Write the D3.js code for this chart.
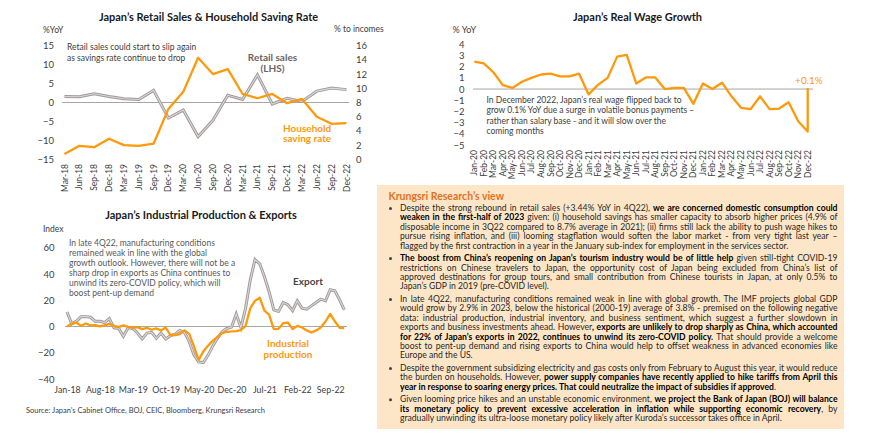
<!DOCTYPE html>
<html lang="en">
<head>
  <meta charset="UTF-8">
  <title>Japan economic outlook</title>
  <script src="https://d3js.org/d3.v7.min.js"></script>
  <style>
    body { margin: 0; padding: 0; background: #fff; font-family: Lato, sans-serif; overflow: hidden; }
    text { font-family: Lato, sans-serif; }
  </style>
</head>
<body>
  <div id="chart"></div>

  <script>
    // ---- data ----
    const quarters = ["Mar-18","Jun-18","Sep-18","Dec-18","Mar-19","Jun-19","Sep-19","Dec-19","Mar-20","Jun-20",
                      "Sep-20","Dec-20","Mar-21","Jun-21","Sep-21","Dec-21","Mar-22","Jun-22","Sep-22","Dec-22"];
    const retailSales = [1.6, 1.5, 2.3, 1.6, 1.0, 0.8, 3.2, -4.1, -2.0, -9.0, -4.7, 1.9, 0.8, 7.3, -0.4, 1.1, 0.3, 3.0, 3.8, 3.4];
    const savingRate = [0.75, 1.9, 1.7, 2.9, 2.0, 1.9, 2.2, 7.1, 9.5, 14.3, 12.0, 12.7, 9.2, 8.6, 9.2, 7.9, 8.5, 6.0, 5.0, 5.1];
    const retailTicks = [15, 10, 5, 0, -5, -10, -15];
    const savingTicks = [16, 14, 12, 10, 8, 6, 4, 2, 0];

    const fmtMonth = d3.timeFormat("%b-%y");
    const wageMonths = d3.timeMonth.range(new Date(2020, 0, 1), new Date(2023, 0, 1)).map(fmtMonth);
    // last value is the Dec-22 flash reading (+0.1%), drawn at the end of the axis
    const realWage = [2.45, 2.3, 1.5, 0.35, 0.1, 0.65, 1.0, 1.3, 1.37, 1.13, 1.13, 1.37,
                      -0.48, 0.4, 1.0, 2.9, 3.05, 0.5, 1.04, 1.04, 0.0, 0.1, 0.1, -1.32,
                      0.5, 0.0, 0.57, -0.65, -1.68, -1.8, -0.65, -1.79, -1.74, -1.18, -2.88, -3.8, 0.1];
    const wageTicks = [4, 3, 2, 1, 0, -1, -2, -3, -4, -5];

    const ipMonths = d3.timeMonth.range(new Date(2018, 0, 1), new Date(2023, 0, 1)).map(fmtMonth);
    const exportsIdx = [11, 2, 4, 7.5, 7.5, 7, 4, 4, 3, 6, -1, -1.5,
                        -7.5, -1, -1.5, -5, -9.5, -5, -4.5, -9, -5, -9.5, -7, -6,
                        -3, -4.5, -11.5, -21.5, -27, -27.5, -22, -15, -9, -4, -1.5, -0.5,
                        9.5, -0.8, 14, 35.5, 51, 47.7, 38, 26.5, 12.7, 11.4, 18.3, 16.5,
                        12, 19.5, 14, 13.2, 15.7, 18.3, 20.8, 19.5, 28, 27.2, 20.3, 12.7];
    const industrialProd = [0, 2, 3, 0.5, 2.3, 0.8, 1, 0, 0.8, 2, 0.5, -0.5,
                            0.8, -0.3, -1, -0.5, -2, -1, -2.5, -1.5, -3, -0.8, -6.5, -6.5,
                            -5.8, -3, -5.6, -15, -25.5, -19, -14.7, -11, -8, -5, -4, -3.8,
                            -3.5, -2.8, 0.5, 14, 19.5, 22, 12, 9, -2, -1.8, 2.5, 3,
                            -2, 0.5, -0.8, -3, -4.6, -3, -0.8, 3.8, 9.6, 3.8, -1, -1.3];
    const ipTickLabels = ["Jan-18","Aug-18","Mar-19","Oct-19","May-20","Dec-20","Jul-21","Feb-22","Sep-22"];
    const ipTicks = [60, 40, 20, 0, -20, -40];

    const orange = "#fd990b";
    const axisText = "#404040";

    const svg = d3.select("#chart").append("svg")
      .attr("width", 870).attr("height", 438);
    svg.append("rect").attr("width", 870).attr("height", 438).attr("fill", "#fff");

    function title(x, y, t) {
      svg.append("text").attr("x", x).attr("y", y).attr("text-anchor", "middle")
        .attr("font-size", 11).attr("font-weight", "bold").attr("fill", "#1a1a1a").text(t);
    }
    function label(x, y, t, opts = {}) {
      return svg.append("text").attr("x", x).attr("y", y)
        .attr("text-anchor", opts.anchor || "start")
        .attr("font-size", opts.size || 8.5)
        .attr("font-weight", opts.bold ? "bold" : null)
        .attr("fill", opts.fill || axisText).text(t);
    }
    function greyLine(path) {
      // double-stroke grey look
      svg.append("path").attr("d", path).attr("fill", "none").attr("stroke", "#a09999").attr("stroke-width", 3);
      svg.append("path").attr("d", path).attr("fill", "none").attr("stroke", "#dcd7d7").attr("stroke-width", 1.1);
    }
    function orangeLine(path) {
      svg.append("path").attr("d", path).attr("fill", "none").attr("stroke", orange)
        .attr("stroke-width", 2.3).attr("stroke-linejoin", "round");
    }
    function styleAxis(g) {
      g.select(".domain").remove();
      g.selectAll("line").remove();
      g.selectAll("text").attr("fill", axisText).attr("font-family", "Lato, sans-serif");
    }

    // ---- chart 1: retail sales & saving rate ----
    const x1 = d3.scalePoint().domain(quarters).range([64.5, 346.5]);
    const yL = d3.scaleLinear().domain([-15, 15]).range([159.3, 45.7]);
    const yR = d3.scaleLinear().domain([0, 16]).range([159.3, 45.7]);

    title(208.5, 21, "Japan\u2019s Retail Sales & Household Saving Rate");
    label(43, 33, "%YoY");
    label(334, 32, "% to incomes");

    svg.append("g").attr("transform", "translate(54,0)")
      .call(d3.axisLeft(yL).tickValues(retailTicks).tickSize(0).tickPadding(0))
      .call(styleAxis).selectAll("text").attr("font-size", 9.5);
    svg.append("g").attr("transform", "translate(356,0)")
      .call(d3.axisRight(yR).tickValues(savingTicks).tickSize(0).tickPadding(0))
      .call(styleAxis).selectAll("text").attr("font-size", 9.5);

    svg.append("line").attr("x1", 62).attr("x2", 349).attr("y1", yL(0)).attr("y2", yL(0))
      .attr("stroke", "#a6a6a6").attr("stroke-width", 1);

    svg.append("g").selectAll("text").data(quarters).join("text")
      .attr("transform", d => `translate(${x1(d) + 3},164) rotate(-90)`)
      .attr("text-anchor", "end").attr("font-size", 8.5).attr("fill", axisText).text(d => d);

    greyLine(d3.line().x((d, i) => x1(quarters[i])).y(d => yL(d))(retailSales));
    orangeLine(d3.line().x((d, i) => x1(quarters[i])).y(d => yR(d))(savingRate));

    label(67, 50, "Retail sales could start to slip again");
    label(67, 60.5, "as savings rate continue to drop");
    label(272.5, 61, "Retail sales", { anchor: "middle", size: 10, bold: true, fill: "#6b6363" });
    label(272.5, 71.5, "(LHS)", { anchor: "middle", size: 10, bold: true, fill: "#6b6363" });
    label(283, 131.5, "Household", { size: 10, bold: true, fill: orange });
    label(283, 142, "saving rate", { size: 10, bold: true, fill: orange });

    // ---- chart 2: real wage growth ----
    const x2 = d3.scalePoint().domain(wageMonths).range([474.3, 807.7]);
    const y2 = d3.scaleLinear().domain([-5, 4]).range([145, 44.3]);

    title(637.5, 21, "Japan\u2019s Real Wage Growth");
    label(452.5, 33, "% YoY", { size: 9 });
    svg.append("g").attr("transform", "translate(464.5,0)")
      .call(d3.axisLeft(y2).tickValues(wageTicks).tickSize(0).tickPadding(0).tickFormat(d3.format("d")))
      .call(styleAxis).selectAll("text").attr("font-size", 9.5);
    svg.append("line").attr("x1", 473).attr("x2", 813).attr("y1", y2(0)).attr("y2", y2(0))
      .attr("stroke", "#a6a6a6").attr("stroke-width", 1);
    svg.append("g").selectAll("text").data(wageMonths).join("text")
      .attr("transform", d => `translate(${x2(d) + 3},150) rotate(-90)`)
      .attr("text-anchor", "end").attr("font-size", 8.5).attr("fill", axisText).text(d => d);
    orangeLine(d3.line()
      .x((d, i) => x2(wageMonths[Math.min(i, wageMonths.length - 1)]))
      .y(d => y2(d))(realWage));

    label(809, 84, "+0.1%", { anchor: "middle", size: 10, fill: orange });
    const wageNote = ["In December 2022, Japan\u2019s real wage flipped back to",
                      "grow 0.1% YoY due a surge in volatile bonus payments \u2013",
                      "rather than salary base - and it will slow over the",
                      "coming months"];
    wageNote.forEach((t, i) => label(486.5, 103 + i * 10.3, t));

    // ---- chart 3: industrial production & exports ----
    const x3 = d3.scalePoint().domain(ipMonths).range([67, 344.3]);
    const y3 = d3.scaleLinear().domain([-40, 60]).range([379, 247.7]);

    title(201, 219, "Japan\u2019s Industrial Production & Exports");
    label(43, 232, "Index");
    svg.append("g").attr("transform", "translate(54.5,0)")
      .call(d3.axisLeft(y3).tickValues(ipTicks).tickSize(0).tickPadding(0))
      .call(styleAxis).selectAll("text").attr("font-size", 9.5);
    svg.append("line").attr("x1", 65).attr("x2", 347).attr("y1", y3(0)).attr("y2", y3(0))
      .attr("stroke", "#a6a6a6").attr("stroke-width", 1);
    svg.append("g").attr("transform", "translate(0,388)")
      .call(d3.axisBottom(x3).tickValues(ipTickLabels).tickSize(0).tickPadding(0))
      .call(styleAxis).selectAll("text").attr("font-size", 8.8).attr("dy", "0.6em");

    greyLine(d3.line().x((d, i) => x3(ipMonths[i])).y(d => y3(d))(exportsIdx));
    orangeLine(d3.line().x((d, i) => x3(ipMonths[i])).y(d => y3(d))(industrialProd));

    const ipNote = ["In late 4Q22, manufacturing conditions",
                    "remained weak in line with the global",
                    "growth outlook. However, there will not be a",
                    "sharp drop in exports as China continues to",
                    "unwind its zero-COVID policy, which will",
                    "boost pent-up demand"];
    ipNote.forEach((t, i) => label(69, 246 + i * 10, t, { fill: "#595959" }));
    label(308, 285, "Export", { anchor: "middle", size: 10, bold: true, fill: "#4a4444" });
    label(288, 347, "Industrial", { anchor: "middle", size: 10, bold: true, fill: orange });
    label(288, 357.5, "production", { anchor: "middle", size: 10, bold: true, fill: orange });

    label(26, 413, "Source: Japan\u2019s Cabinet Office, BOJ, CEIC, Bloomberg, Krungsri Research", { size: 7.5 });

    // ---- text box ----
    const box = svg.append("g");
    box.append("rect").attr("x", 377).attr("y", 185).attr("width", 467).attr("height", 244).attr("fill", "#fde6c7");
    box.append("text").attr("x", 388.5).attr("y", 199.5).attr("font-size", 10.5).attr("font-weight", "bold")
      .attr("fill", "#e2711d").text("Krungsri Research\u2019s view");

    const B = t => ({ t, b: true }), R = t => ({ t, b: false });
    const bullets = [
      [[R("Despite the strong rebound in retail sales (+3.44% YoY in 4Q22), "), B("we are concerned domestic consumption could")],
       [B("weaken in the first-half of 2023"), R(" given: (i) household savings has smaller capacity to absorb higher prices (4.9% of")],
       [R("disposable income in 3Q22 compared to 8.7% average in 2021); (ii) firms still lack the ability to push wage hikes to")],
       [R("pursue rising inflation, and (iii) looming stagflation would soften the labor market - from very tight last year \u2013")],
       [R("flagged by the first contraction in a year in the January sub-index for employment in the services sector.")]],
      [[B("The boost from China\u2019s reopening on Japan\u2019s tourism industry would be of little help"), R(" given still-tight COVID-19")],
       [R("restrictions on Chinese travelers to Japan, the opportunity cost of Japan being excluded from China\u2019s list of")],
       [R("approved destinations for group tours, and small contribution from Chinese tourists in Japan, at only 0.5% to")],
       [R("Japan\u2019s GDP in 2019 (pre-COVID level).")]],
      [[R("In late 4Q22, manufacturing conditions remained weak in line with global growth. The IMF projects global GDP")],
       [R("would grow by 2.9% in 2023, below the historical (2000-19) average of 3.8% - premised on the following negative")],
       [R("data: industrial production, industrial inventory, and business sentiment, which suggest a further slowdown in")],
       [R("exports and business investments ahead. However"), B(", exports are unlikely to drop sharply as China, which accounted")],
       [B("for 22% of Japan\u2019s exports in 2022, continues to unwind its zero-COVID policy."), R(" That should provide a welcome")],
       [R("boost to pent-up demand and rising exports to China would help to offset weakness in advanced economies like")],
       [R("Europe and the US.")]],
      [[R("Despite the government subsidizing electricity and gas costs only from February to August this year, it would reduce")],
       [R("the burden on households. However, "), B("power supply companies have recently applied to hike tariffs from April this")],
       [B("year in response to soaring energy prices. That could neutralize the impact of subsidies if approved"), R(".")]],
      [[R("Given looming price hikes and an unstable economic environment, "), B("we project the Bank of Japan (BOJ) will balance")],
       [B("its monetary policy to prevent excessive acceleration in inflation while supporting economic recovery"), R(", by")],
       [R("gradually unwinding its ultra-loose monetary policy likely after Kuroda\u2019s successor takes office in April.")]]
    ];

    const textX = 400, textW = 437.5, lh = 9.4, pGap = 3.2;
    let y = 211;
    bullets.forEach(lines => {
      box.append("circle").attr("cx", 390.5).attr("cy", y - 2.6).attr("r", 1.5).attr("fill", "#404040");
      lines.forEach((segs, li) => {
        const t = box.append("text").attr("x", textX).attr("y", y).attr("font-size", 8.6).attr("fill", "#262626");
        segs.forEach(s => t.append("tspan").attr("font-weight", s.b ? "bold" : null)
          .attr("fill", s.b ? "#000" : null).text(s.t));
        const len = t.node().getComputedTextLength();
        const last = li === lines.length - 1;
        if (!last || len > textW) {
          const spaces = (segs.map(s => s.t).join("").match(/ /g) || []).length;
          t.attr("word-spacing", (textW - len) / spaces);
        }
        y += lh;
      });
      y += pGap;
    });
  </script>
</body>
</html>
